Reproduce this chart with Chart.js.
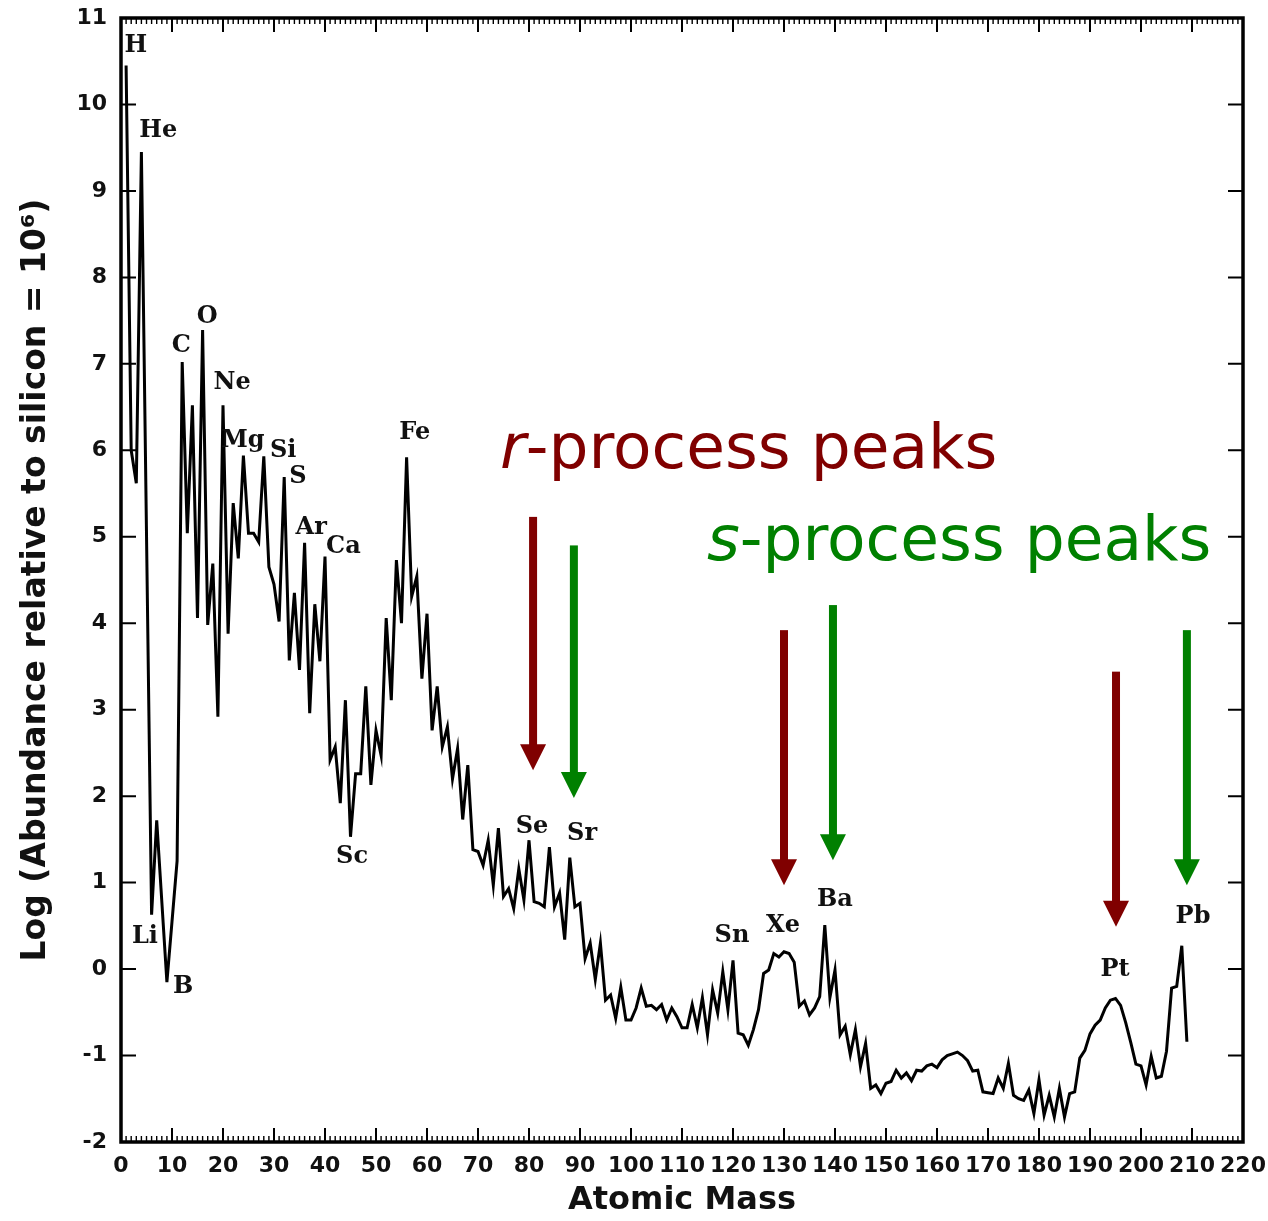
<!DOCTYPE html>
<html>
<head>
<meta charset="utf-8">
<title>Solar system abundances</title>
<script src="https://cdn.jsdelivr.net/npm/chart.js@4.4.1/dist/chart.umd.min.js"></script>
<style>
  html, body { margin: 0; padding: 0; background: #fff; }
</style>
</head>
<body>
<canvas id="abundance-chart" width="1268" height="1221"></canvas>
<script>
// mass numbers (A = 5 and 8 have no stable nuclei, so they are skipped)
const massNumbers = [
  1, 2, 3, 4, 6, 7, 9, 10, 11, 12, 13, 14, 15, 16, 17, 18, 19, 20,
  21, 22, 23, 24, 25, 26, 27, 28, 29, 30, 31, 32, 33, 34, 35, 36, 37, 38, 39, 40,
  41, 42, 43, 44, 45, 46, 47, 48, 49, 50, 51, 52, 53, 54, 55, 56, 57, 58, 59, 60,
  61, 62, 63, 64, 65, 66, 67, 68, 69, 70, 71, 72, 73, 74, 75, 76, 77, 78, 79, 80,
  81, 82, 83, 84, 85, 86, 87, 88, 89, 90, 91, 92, 93, 94, 95, 96, 97, 98, 99, 100,
  101, 102, 103, 104, 105, 106, 107, 108, 109, 110, 111, 112, 113, 114, 115, 116, 117, 118, 119, 120,
  121, 122, 123, 124, 125, 126, 127, 128, 129, 130, 131, 132, 133, 134, 135, 136, 137, 138, 139, 140,
  141, 142, 143, 144, 145, 146, 147, 148, 149, 150, 151, 152, 153, 154, 155, 156, 157, 158, 159, 160,
  161, 162, 163, 164, 165, 166, 167, 168, 169, 170, 171, 172, 173, 174, 175, 176, 177, 178, 179, 180,
  181, 182, 183, 184, 185, 186, 187, 188, 189, 190, 191, 192, 193, 194, 195, 196, 197, 198, 199, 200,
  201, 202, 203, 204, 205, 206, 207, 208, 209
];

// log abundance, silicon = 10^6
const logAbundance = [
  10.45, 6.0, 5.62, 9.45, 0.63, 1.72, -0.15, 0.55, 1.25, 7.02, 5.04, 6.52, 4.06, 7.39, 3.98, 4.69, 2.92, 6.52,
  3.88, 5.39, 4.75, 5.94, 5.04, 5.04, 4.94, 5.93, 4.65, 4.45, 4.02, 5.69, 3.57, 4.35, 3.46, 4.93, 2.96, 4.22, 3.56, 4.77,
  2.42, 2.57, 1.92, 3.11, 1.53, 2.26, 2.26, 3.27, 2.13, 2.76, 2.47, 4.06, 3.11, 4.73, 4.0, 5.92, 4.31, 4.54, 3.36, 4.11,
  2.76, 3.27, 2.57, 2.8, 2.2, 2.55, 1.73, 2.36, 1.38, 1.36, 1.2, 1.49, 0.97, 1.63, 0.84, 0.93, 0.70, 1.16, 0.80, 1.49,
  0.78, 0.76, 0.72, 1.41, 0.72, 0.88, 0.34, 1.29, 0.72, 0.76, 0.12, 0.30, -0.12, 0.30, -0.36, -0.30, -0.57, -0.21, -0.59, -0.59,
  -0.45, -0.22, -0.43, -0.42, -0.47, -0.41, -0.59, -0.45, -0.55, -0.68, -0.68, -0.41, -0.68, -0.33, -0.76, -0.24, -0.51, -0.03, -0.47, 0.10,
  -0.74, -0.76, -0.88, -0.70, -0.47, -0.05, -0.01, 0.18, 0.14, 0.20, 0.18, 0.08, -0.43, -0.37, -0.53, -0.45, -0.32, 0.51, -0.33, -0.01,
  -0.76, -0.66, -0.99, -0.70, -1.13, -0.86, -1.38, -1.34, -1.44, -1.32, -1.30, -1.17, -1.26, -1.20, -1.29, -1.17, -1.18, -1.12, -1.10, -1.14,
  -1.05, -1.00, -0.98, -0.96, -1.00, -1.06, -1.18, -1.17, -1.42, -1.43, -1.44, -1.26, -1.38, -1.09, -1.46, -1.50, -1.52, -1.40, -1.67, -1.28,
  -1.69, -1.46, -1.71, -1.38, -1.71, -1.44, -1.42, -1.03, -0.94, -0.75, -0.65, -0.59, -0.45, -0.36, -0.34, -0.42, -0.62, -0.85, -1.10, -1.12,
  -1.34, -1.01, -1.26, -1.24, -0.95, -0.22, -0.20, 0.27, -0.84
];

// element names and where they sit (mass number, log abundance)
const elementNames = ['H', 'He', 'Li', 'B', 'C', 'O', 'Ne', 'Mg', 'Si', 'S', 'Ar', 'Ca', 'Sc', 'Fe',
  'Se', 'Sr', 'Sn', 'Xe', 'Ba', 'Pt', 'Pb'];
const elementMass = [2.9, 7.3, 4.7, 12.2, 11.8, 16.9, 21.8, 23.9, 31.8, 34.7, 37.3, 43.6, 45.3, 57.6,
  80.6, 90.4, 119.8, 129.8, 140.0, 194.9, 210.2];
const elementLevel = [10.68, 9.70, 0.37, -0.21, 7.21, 7.55, 6.78, 6.11, 6.0, 5.69, 5.10, 4.89, 1.30, 6.20,
  1.65, 1.57, 0.39, 0.50, 0.80, -0.01, 0.61];

// r- and s-process peak arrows: mass number, start level, tip level
const arrowKind = ['r', 's', 'r', 's', 'r', 's'];
const arrowMass = [80.8, 88.8, 130.0, 139.6, 195.1, 209.0];
const arrowFrom = [5.23, 4.90, 3.92, 4.21, 3.44, 3.92];
const arrowTo = [2.30, 1.98, 0.97, 1.26, 0.49, 0.97];

const processLetter = ['r', 's'];
const processMass = [74.3, 114.9];
const processLevel = [5.80, 4.73];

const processColours = { r: '#800000', s: '#008000' };

const points = massNumbers.map((a, i) => ({ x: a, y: logAbundance[i] }));

const framePlugin = {
  id: 'framePlugin',
  afterDatasetsDraw(chart) {
    const { ctx, chartArea, scales } = chart;
    const { left, right, top, bottom } = chartArea;
    const x = scales.x;
    const y = scales.y;

    ctx.save();
    ctx.strokeStyle = '#000';

    // inward ticks, minor every 1 on the mass axis
    for (let a = 0; a <= 220; a++) {
      const px = x.getPixelForValue(a);
      const major = a % 10 === 0;
      const len = major ? 14 : 6;
      ctx.lineWidth = major ? 2 : 1.4;
      ctx.beginPath();
      ctx.moveTo(px, bottom);
      ctx.lineTo(px, bottom - len);
      ctx.moveTo(px, top);
      ctx.lineTo(px, top + len);
      ctx.stroke();
    }
    ctx.lineWidth = 2;
    for (let v = -2; v <= 11; v++) {
      const py = y.getPixelForValue(v);
      ctx.beginPath();
      ctx.moveTo(left, py);
      ctx.lineTo(left + 15, py);
      ctx.moveTo(right, py);
      ctx.lineTo(right - 15, py);
      ctx.stroke();
    }

    ctx.lineWidth = 3.5;
    ctx.strokeRect(left, top, right - left, bottom - top);

    // element labels
    ctx.fillStyle = '#111';
    ctx.font = 'bold 24px "DejaVu Serif", serif';
    ctx.textAlign = 'center';
    ctx.textBaseline = 'middle';
    elementNames.forEach((name, i) => {
      ctx.fillText(name, x.getPixelForValue(elementMass[i]), y.getPixelForValue(elementLevel[i]));
    });

    // arrows
    arrowKind.forEach((kind, i) => {
      const px = x.getPixelForValue(arrowMass[i]);
      const y0 = y.getPixelForValue(arrowFrom[i]);
      const y1 = y.getPixelForValue(arrowTo[i]);
      const head = 26;
      ctx.fillStyle = processColours[kind];
      ctx.fillRect(px - 4, y0, 8, y1 - y0 - head + 2);
      ctx.beginPath();
      ctx.moveTo(px - 13, y1 - head);
      ctx.lineTo(px + 13, y1 - head);
      ctx.lineTo(px, y1);
      ctx.closePath();
      ctx.fill();
    });

    // process titles, italic letter then upright rest
    ctx.textAlign = 'left';
    ctx.textBaseline = 'alphabetic';
    processLetter.forEach((letter, i) => {
      let px = x.getPixelForValue(processMass[i]);
      const py = y.getPixelForValue(processLevel[i]);
      ctx.fillStyle = processColours[letter];
      ctx.font = 'italic 63px "DejaVu Sans", sans-serif';
      ctx.fillText(letter, px, py);
      px += ctx.measureText(letter).width;
      ctx.font = '63px "DejaVu Sans", sans-serif';
      ctx.fillText('-process peaks', px, py);
    });

    ctx.restore();
  }
};

const tickFont = { family: '"DejaVu Sans", sans-serif', size: 22, weight: 'bold' };

new Chart(document.getElementById('abundance-chart'), {
  type: 'line',
  data: {
    datasets: [{
      data: points,
      borderColor: '#000',
      borderWidth: 3,
      pointRadius: 0,
      tension: 0,
      fill: false
    }]
  },
  options: {
    responsive: false,
    animation: false,
    layout: { padding: { top: 18, right: 25, left: 0, bottom: 0 } },
    plugins: {
      legend: { display: false },
      tooltip: { enabled: false }
    },
    scales: {
      x: {
        type: 'linear',
        min: 0,
        max: 220,
        afterFit: (scale) => {
          scale.height = 79;
          scale.paddingLeft = 0;
          scale.paddingRight = 0;
        },
        ticks: { stepSize: 10, autoSkip: false, maxRotation: 0, padding: 11, color: '#111', font: tickFont },
        grid: { display: false, drawTicks: false },
        border: { display: false },
        title: {
          display: true,
          text: 'Atomic Mass',
          color: '#111',
          font: { family: '"DejaVu Sans", sans-serif', size: 32, weight: 'bold' },
          padding: { top: 0, bottom: 1 }
        }
      },
      y: {
        type: 'linear',
        min: -2,
        max: 11,
        afterFit: (scale) => {
          scale.width = 121;
          scale.paddingTop = 0;
          scale.paddingBottom = 0;
        },
        ticks: { stepSize: 1, padding: 14, color: '#111', font: tickFont },
        grid: { display: false, drawTicks: false },
        border: { display: false },
        title: {
          display: true,
          text: 'Log (Abundance relative to silicon = 10⁶)',
          color: '#111',
          font: { family: '"DejaVu Sans", sans-serif', size: 33, weight: 'bold' },
          padding: { top: 17, bottom: 0 }
        }
      }
    }
  },
  plugins: [framePlugin]
});
</script>
</body>
</html>
